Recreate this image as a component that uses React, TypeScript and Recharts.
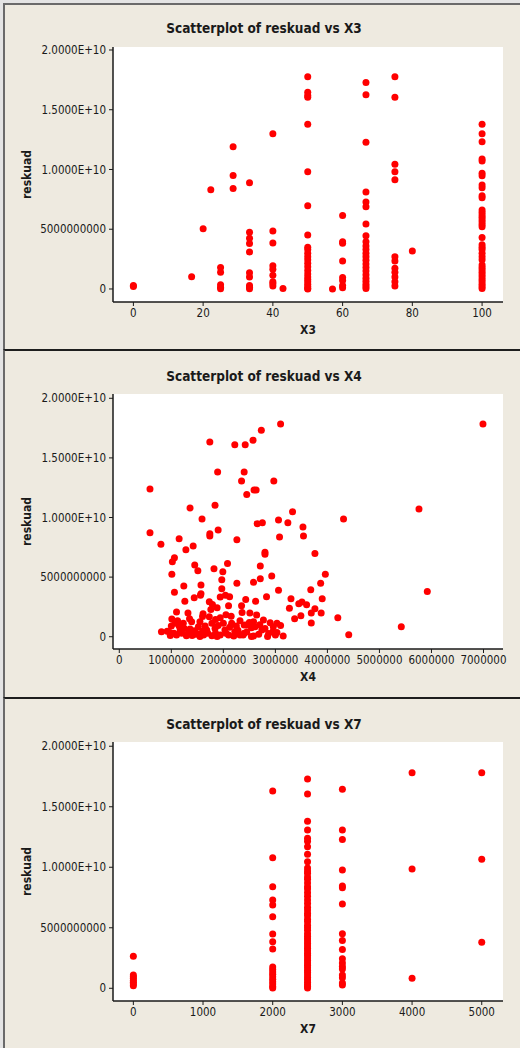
import React from 'react'
import { ScatterChart, Scatter, XAxis, YAxis, CartesianGrid, Label } from 'recharts'

// reskuad values are in units of 1e9

// --- X3 panel: x value -> reskuad values at that x
const x3Levels = [0, 16.7, 20, 22.2, 25, 28.6, 33.3, 40, 42.9, 50, 57.1, 60, 66.7, 75, 80, 100]
const x3Reskuad = [
  [0.2, 0.3],
  [1.03],
  [5.05],
  [8.3],
  [1.8, 1.4, 0.35, 0.15, 0.02],
  [11.9, 9.5, 8.4],
  [8.9, 4.75, 4.25, 3.8, 3.1, 1.35, 1.0, 0.3, 0.15, 0.02],
  [13.0, 4.85, 3.85, 1.95, 1.65, 1.15, 0.6, 0.45, 0.25],
  [0.05],
  [17.77, 16.46, 16.2, 16.04, 13.78, 9.82, 6.97, 4.52, 3.5, 3.3, 3.0, 2.7, 2.45, 2.15, 1.85, 1.55, 1.25, 1.0, 0.8, 0.6, 0.4, 0.2, 0.05, 0],
  [0],
  [6.14, 3.96, 3.82, 2.34, 0.95, 0.7, 0.3, 0.1],
  [17.27, 16.26, 12.27, 8.12, 7.28, 6.89, 5.44, 4.46, 3.95, 3.6, 3.3, 3.0, 2.7, 2.4, 2.1, 1.8, 1.5, 1.2, 0.9, 0.65, 0.4, 0.2, 0.05],
  [17.77, 16.04, 10.43, 9.82, 9.15, 2.7, 2.35, 1.73, 1.4, 1.0, 0.6, 0.25],
  [3.18],
  [13.78, 13.0, 12.33, 10.88, 10.71, 9.68, 9.48, 8.7, 8.48, 7.81, 7.64, 6.6, 6.4, 6.2, 6.0, 5.8, 5.6, 5.4, 5.2, 4.3, 3.7, 3.5, 3.3, 3.0, 2.7, 2.45, 2.0, 1.8, 1.6, 1.4, 1.2, 1.0, 0.8, 0.6, 0.4, 0.2, 0.05],
]

// --- X4 panel: [X4 in millions, reskuad]
const x4Points: [number, number][] = [
  [0.59, 12.39], [0.59, 8.73], [0.8, 7.75], [1.02, 6.29], [1.06, 6.63], [1.01, 5.23], [1.06, 3.72], [1.1, 2.07],
  [1.15, 8.22], [1.28, 7.3], [1.42, 7.61], [1.36, 10.8], [1.24, 4.25], [1.26, 2.97], [1.32, 1.99], [1.45, 6.01],
  [1.51, 5.54], [1.44, 3.27], [1.57, 4.34], [1.57, 3.61], [1.56, 3.47], [1.59, 9.87], [1.74, 16.34], [1.74, 8.64],
  [1.74, 8.45], [1.84, 11.02], [1.82, 5.71], [1.9, 8.95], [1.89, 13.82], [1.99, 5.45], [1.97, 4.78], [1.97, 4.03],
  [2.08, 6.15], [1.94, 3.33], [2.04, 3.47], [2.12, 3.36], [2.1, 2.6], [1.73, 2.94], [1.79, 2.71], [1.76, 2.29],
  [1.88, 2.43], [1.61, 1.93], [2.22, 16.11], [2.42, 16.11], [2.57, 16.48], [2.73, 17.31], [3.1, 17.85], [2.4, 13.82],
  [2.35, 13.06], [2.45, 11.92], [2.59, 12.31], [2.63, 12.31], [2.26, 8.14], [2.26, 4.48], [2.65, 9.48], [2.75, 9.57],
  [2.8, 7.08], [2.8, 6.91], [2.71, 5.93], [2.71, 4.87], [2.58, 4.56], [2.43, 3.13], [2.62, 2.97], [2.35, 2.6],
  [2.36, 2.04], [2.51, 1.99], [2.83, 3.36], [2.93, 5.09], [2.97, 13.06], [3.06, 9.79], [3.08, 8.36], [3.06, 3.89],
  [3.24, 9.57], [3.33, 10.49], [3.53, 9.2], [3.54, 8.45], [3.76, 6.99], [3.96, 5.23], [3.87, 4.48], [3.68, 3.94],
  [3.9, 3.19], [3.3, 3.19], [3.45, 2.77], [3.51, 2.91], [3.6, 2.69], [3.76, 2.35], [3.69, 1.99], [3.88, 1.99],
  [3.27, 2.38], [3.37, 1.51], [3.49, 1.76], [3.69, 1.15], [4.2, 1.59], [4.31, 9.87], [4.41, 0.17], [5.42, 0.84],
  [5.76, 10.71], [5.92, 3.8], [6.99, 17.85],
  // dense cluster near zero
  [1.73, 1.68], [1.94, 1.59], [2.15, 1.71], [1.01, 1.48], [2.32, 1.34], [2.4, 0.98], [1.07, 1.12], [1.23, 1.12],
  [1.39, 1.26], [1.55, 1.26], [1.78, 1.12], [2.0, 1.12], [2.16, 1.12], [0.81, 0.42], [0.97, 0.36], [1.17, 0.56],
  [1.36, 0.64], [1.52, 0.84], [1.68, 0.56], [1.84, 0.7], [2.03, 0.56], [2.22, 0.42], [1.1, 0.14], [1.29, 0.08],
  [1.46, 0.2], [1.62, 0.14], [1.78, 0.08], [1.94, 0.14], [2.1, 0.14], [2.32, 0.14], [2.64, 1.82], [2.77, 1.4],
  [3.03, 1.12], [2.96, 0.84], [2.58, 1.26], [2.45, 0.98], [2.61, 0.84], [2.74, 0.56], [2.87, 0.28], [3.15, 0.06],
  [2.38, 0.14], [2.58, 0.06], [3.03, 0.36], [2.54, 0.02], [2.85, 0.02], [2.95, 0.42], [2.9, 1.17], [2.54, 0.76],
  [0.92, 0.45], [1.0, 0.9], [1.05, 0.3], [1.15, 0.9], [1.2, 0.3], [1.25, 0.7], [1.33, 0.35], [1.4, 0.1],
  [1.45, 0.5], [1.5, 0.25], [1.6, 0.45], [1.65, 0.9], [1.7, 0.3], [1.85, 0.3], [1.9, 0.95], [2.05, 0.3],
  [2.12, 0.8], [2.2, 0.05], [2.25, 0.9], [2.28, 0.55], [2.45, 0.4], [2.5, 1.2], [2.68, 0.2], [2.7, 1.0],
  [2.8, 0.7], [3.0, 0.15], [3.1, 0.95], [1.12, 1.35], [1.35, 1.5], [1.6, 1.7], [1.85, 1.45], [2.05, 1.85],
  [0.98, 0.1], [1.55, 0.02], [1.88, 0.02], [2.4, 0.3],
]

// --- X7 panel
const x7Levels = [0, 2000, 2500, 3000, 4000, 5000]
const x7Reskuad = [
  [2.64, 1.1, 0.95, 0.8, 0.65, 0.5, 0.35, 0.2],
  [16.3, 10.78, 8.39, 7.29, 6.88, 5.91, 4.48, 3.85, 3.25, 1.75, 1.55, 1.35, 1.15, 0.95, 0.75, 0.55, 0.35, 0.15, 0.02],
  [17.3, 16.05, 13.8, 13.07, 12.4, 12.15, 11.7, 11.08, 10.45, 9.93, 9.7, 9.5, 9.2, 9.0, 8.7, 8.4, 8.2, 7.9, 7.6,
    7.3, 7.0, 6.7, 6.46, 6.2, 6.0, 5.7, 5.5, 5.2, 5.0, 4.8, 4.5, 4.3, 4.1, 3.9, 3.7, 3.5, 3.3, 3.1, 2.9, 2.7,
    2.5, 2.3, 2.1, 1.9, 1.7, 1.5, 1.3, 1.1, 0.9, 0.7, 0.5, 0.3, 0.15, 0.02],
  [16.45, 13.07, 12.3, 9.77, 8.45, 8.3, 6.96, 4.5, 3.95, 3.2, 2.45, 2.1, 1.8, 1.6, 1.1, 0.88, 0.44, 0.28],
  [17.8, 9.85, 0.83],
  [17.8, 10.67, 3.8],
]

const yTicks = [0, 5, 10, 15, 20]
const x3Ticks = [0, 20, 40, 60, 80, 100]
const x4Ticks = [0, 1, 2, 3, 4, 5, 6, 7]
const x7Ticks = [0, 1000, 2000, 3000, 4000, 5000]

const FONT = "'DejaVu Sans Condensed', 'DejaVu Sans', Tahoma, sans-serif"
const INK = '#1a1a1a'

const fromLevels = (levels: number[], vals: number[][]) =>
  levels.flatMap((x, i) => vals[i].map((y) => ({ x, y })))

const fmtY = (v: number) => {
  if (v === 0) return '0'
  if (v === 5) return '5000000000'
  return (v * 1e9).toExponential(4).toUpperCase()
}

const Dot = (p: any) => <circle cx={p.cx} cy={p.cy} r={3.5} fill="#ff0000" />

type PanelProps = {
  top: number
  height: number
  title: string
  xName: string
  data: { x: number; y: number }[]
  xDomain: [number, number]
  yDomain: [number, number]
  xTicks: number[]
  fmtX?: (v: number) => string
  marginTop: number
  xAxisH: number
  titleY: number
}

function Panel(p: PanelProps) {
  const tickStyle = { fill: INK, fontSize: 11.5, fontFamily: FONT }
  return (
    <div style={{ position: 'absolute', left: 0, top: p.top, width: 520, height: p.height }}>
      <div
        style={{
          position: 'absolute', left: 8, width: 512, top: p.titleY - 9, textAlign: 'center',
          fontFamily: FONT, fontWeight: 'bold', fontSize: 13.5, color: INK, lineHeight: '18px',
        }}
      >
        {p.title}
      </div>
      <ScatterChart width={520} height={p.height} margin={{ top: p.marginTop, right: 17, left: 0, bottom: 0 }}>
        <CartesianGrid fill="#ffffff" horizontal={false} vertical={false} />
        <XAxis
          type="number" dataKey="x" domain={p.xDomain} ticks={p.xTicks} allowDataOverflow
          height={p.xAxisH} tickSize={4} tickMargin={3} tick={tickStyle} tickFormatter={p.fmtX}
          stroke={INK} axisLine={{ stroke: INK, strokeWidth: 1.5 }} tickLine={{ stroke: INK }}
        >
          <Label
            content={(lp: any) => {
              const vb = lp.viewBox
              return (
                <text x={vb.x + vb.width / 2} y={vb.y + 28} textAnchor="middle" dominantBaseline="central"
                  fontFamily={FONT} fontWeight="bold" fontSize={12} fill={INK}>
                  {p.xName}
                </text>
              )
            }}
          />
        </XAxis>
        <YAxis
          type="number" dataKey="y" domain={p.yDomain} ticks={yTicks} allowDataOverflow
          width={113} tickSize={4} tickMargin={3} tick={tickStyle} tickFormatter={fmtY}
          axisLine={{ stroke: INK, strokeWidth: 1.5 }} tickLine={{ stroke: INK }}
        >
          <Label
            content={(lp: any) => {
              const vb = lp.viewBox
              const cx = vb.x + 27
              const cy = vb.y + vb.height / 2
              return (
                <text x={cx} y={cy} transform={`rotate(-90, ${cx}, ${cy})`} textAnchor="middle"
                  dominantBaseline="central" fontFamily={FONT} fontWeight="bold" fontSize={12} fill={INK}>
                  reskuad
                </text>
              )
            }}
          />
        </YAxis>
        <XAxis xAxisId="top" orientation="top" type="number" domain={p.xDomain} height={0}
          tick={false} tickLine={false} axisLine={{ stroke: '#777777', strokeWidth: 1.5 }} />
        <YAxis yAxisId="right" orientation="right" type="number" domain={p.yDomain} width={0}
          tick={false} tickLine={false} axisLine={{ stroke: INK, strokeWidth: 1.5 }} />
        <Scatter data={p.data} shape={Dot} isAnimationActive={false} />
      </ScatterChart>
    </div>
  )
}

export default function App() {
  const x3Data = fromLevels(x3Levels, x3Reskuad)
  const x4Data = x4Points.map(([x, y]) => ({ x, y }))
  const x7Data = fromLevels(x7Levels, x7Reskuad)
  const bg = '#eeeae0'
  return (
    <div style={{ position: 'absolute', left: 0, top: 0, width: 520, height: 1048, background: '#e4e4e4', overflow: 'hidden' }}>
      <div style={{ position: 'absolute', left: 3, top: 3, width: 517, height: 346, background: bg, borderTop: '2px solid #6a6a6a', borderLeft: '2px solid #6a6a6a', boxSizing: 'border-box' }} />
      <div style={{ position: 'absolute', left: 3, top: 349, width: 517, height: 348, background: bg, borderTop: '2px solid #1e1e1e', borderLeft: '2px solid #6a6a6a', boxSizing: 'border-box' }} />
      <div style={{ position: 'absolute', left: 3, top: 697, width: 517, height: 351, background: bg, borderTop: '2px solid #1e1e1e', borderLeft: '2px solid #6a6a6a', boxSizing: 'border-box' }} />
      <Panel
        top={0} height={349} title="Scatterplot of reskuad vs X3" xName="X3" data={x3Data}
        xDomain={[-5.85, 106]} yDomain={[-1.09, 20.25]} xTicks={x3Ticks}
        marginTop={47} xAxisH={47} titleY={28}
      />
      <Panel
        top={349} height={348} title="Scatterplot of reskuad vs X4" xName="X4" data={x4Data}
        xDomain={[-0.121, 7.375]} yDomain={[-1.03, 20.36]} xTicks={x4Ticks}
        fmtX={(v) => String(Math.round(v * 1e6))}
        marginTop={45} xAxisH={48} titleY={27}
      />
      <Panel
        top={697} height={351} title="Scatterplot of reskuad vs X7" xName="X7" data={x7Data}
        xDomain={[-292, 5305]} yDomain={[-1.05, 20.35]} xTicks={x7Ticks}
        marginTop={45} xAxisH={47} titleY={27}
      />
    </div>
  )
}
